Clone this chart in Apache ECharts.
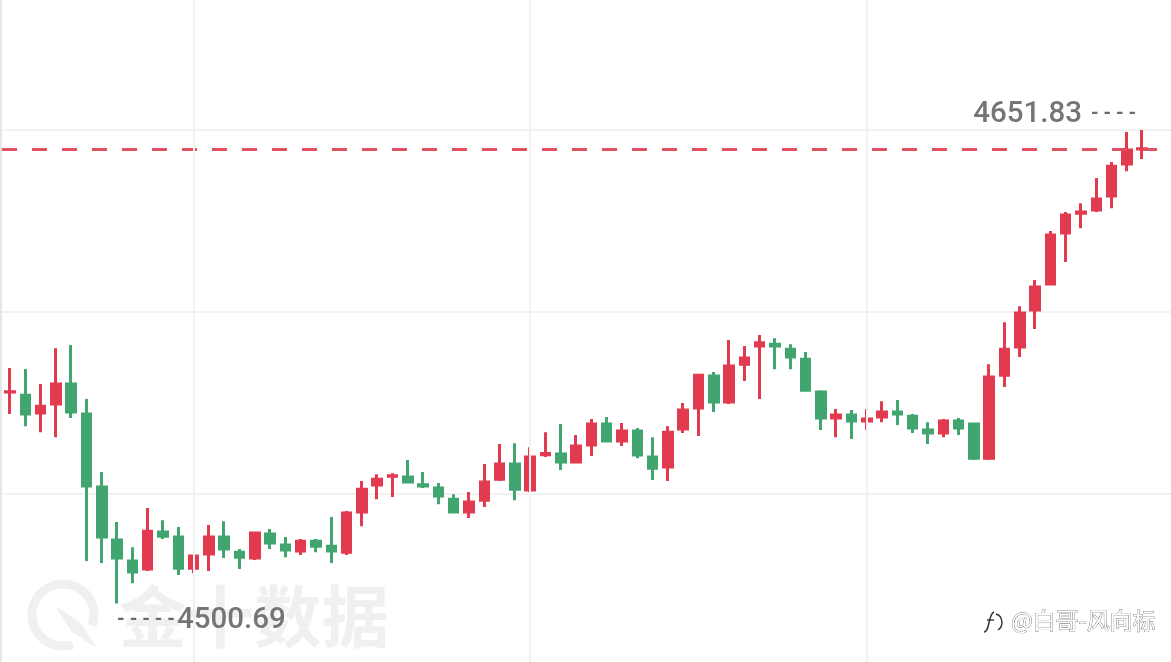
<!DOCTYPE html>
<html>
<head>
<meta charset="utf-8">
<style>html,body{margin:0;padding:0;background:#fff}#c{width:1171px;height:662px}</style>
<script src="https://cdn.jsdelivr.net/npm/echarts@6/dist/echarts.min.js"></script>
</head>
<body>
<div id="c"></div>
<script>
const opens = [4568.2,4567.2,4561.5,4564.4,4570.8,4561.2,4537.9,4521.0,4514.3,4511.7,4523.5,4521.9,4512.0,4516.5,4521.9,4517.1,4515.2,4522.9,4519.4,4517.5,4520.6,4519.0,4517.1,4529.9,4538.5,4541.3,4541.1,4538.6,4537.6,4534.0,4529.9,4533.7,4540.4,4545.2,4536.9,4548.2,4548.4,4545.9,4551.3,4558.0,4552.6,4555.8,4547.5,4544.3,4556.4,4563.1,4573.3,4565.0,4577.1,4582.9,4583.5,4581.9,4578.7,4568.2,4559.9,4560.9,4559.0,4560.2,4561.8,4560.5,4556.1,4555.1,4559.0,4558.0,4547.1,4573.6,4582.6,4594.4,4602.7,4619.0,4625.3,4626.3,4630.8,4641.0,4645.8];
const closes = [4568.3,4561.2,4563.7,4570.8,4561.8,4538.2,4521.9,4515.2,4510.8,4523.8,4522.2,4512.0,4515.9,4521.9,4518.1,4515.5,4523.2,4520.0,4517.8,4520.6,4519.0,4517.5,4529.6,4537.2,4540.4,4541.5,4539.5,4538.2,4535.0,4529.9,4533.1,4539.5,4545.2,4537.2,4547.5,4548.6,4545.9,4551.0,4558.0,4552.6,4555.8,4548.1,4543.9,4555.4,4562.5,4573.6,4565.0,4576.5,4579.1,4583.9,4582.9,4579.4,4568.8,4559.9,4560.9,4559.0,4559.6,4561.8,4561.2,4556.7,4555.1,4559.0,4556.7,4547.1,4573.0,4581.9,4593.4,4601.7,4618.3,4624.7,4625.7,4629.8,4640.3,4645.5,4645.9];
const lows = [4561.2,4557.3,4555.4,4553.8,4559.9,4514.3,4513.6,4500.69,4507.2,4511.1,4521.3,4509.8,4510.4,4511.1,4515.2,4511.7,4514.6,4518.1,4515.5,4516.2,4517.1,4513.6,4516.2,4525.4,4534.0,4534.7,4539.2,4537.6,4532.4,4529.6,4528.0,4531.5,4539.8,4533.7,4536.3,4547.5,4543.3,4545.5,4547.8,4552.2,4551.0,4547.1,4540.1,4539.8,4555.1,4554.2,4561.8,4564.4,4571.7,4566.0,4575.5,4575.5,4568.5,4556.1,4553.8,4553.2,4556.1,4558.6,4557.7,4555.1,4551.6,4553.8,4554.5,4546.5,4546.5,4569.8,4579.4,4588.3,4602.3,4609.7,4620.5,4625.7,4626.9,4638.7,4642.6];
const highs = [4575.9,4575.6,4570.8,4582.2,4583.2,4566.0,4542.7,4526.7,4518.7,4531.2,4527.3,4525.1,4516.2,4525.8,4527.0,4518.1,4523.5,4524.5,4521.9,4521.3,4521.3,4528.3,4530.2,4539.8,4542.0,4542.3,4546.5,4542.7,4539.2,4535.6,4536.3,4545.2,4551.6,4551.9,4550.6,4555.4,4558.0,4554.5,4559.6,4560.2,4558.3,4556.7,4553.8,4557.3,4564.7,4573.9,4574.6,4584.8,4582.9,4586.4,4585.4,4583.5,4581.0,4568.8,4562.8,4562.5,4562.8,4565.3,4565.7,4561.2,4558.6,4559.6,4559.9,4558.3,4577.1,4590.5,4595.6,4604.0,4619.6,4625.7,4628.5,4636.5,4641.6,4651.2,4651.83];
const highLabel = '4651.83';
const lowLabel = '4500.69';
const refPrice = 4645.8;
const gridStep = 58.149;

const categories = opens.concat([0, 0]).map((_, i) => String(i));
const candles = opens.map((o, i) => [o, closes[i], lows[i], highs[i]]);
const RED = '#e23b50', GREEN = '#41a570', GRID = '#f1f1f1', WM = '#f0f0f0';
const iconStroke = {stroke: '#333', lineWidth: 1.4, fill: 'none'};
const labelRich = {
  v: {fontFamily: 'Roboto', fontWeight: 500, fontSize: 29.5, color: '#757575'},
  d: {fontFamily: 'Roboto', fontWeight: 700, fontSize: 19.5, color: '#6a6a6a'},
  g: {width: 9},
  h: {width: 2}
};

const chart = echarts.init(document.getElementById('c'), null, {renderer: 'canvas'});
chart.setOption({
  animation: false,
  backgroundColor: '#fff',
  grid: {left: 2.35, width: 1178.1, top: -52.4, height: 728.7, containLabel: false, outerBoundsMode: 'none'},
  xAxis: {
    type: 'category', data: categories, boundaryGap: true,
    axisLine: {show: false}, axisTick: {show: false}, axisLabel: {show: false},
    splitLine: {show: false}
  },
  yAxis: {
    type: 'value', min: gridStep * 77, max: gridStep * 81, interval: gridStep, offset: 1.5,
    axisLine: {show: true, lineStyle: {color: '#e6e6e6', width: 2}},
    axisTick: {show: false}, axisLabel: {show: false},
    splitLine: {show: true, lineStyle: {color: GRID, width: 2}}
  },
  graphic: [
    {type: 'arc', z: 0, shape: {cx: 63, cy: 615, r: 31, startAngle: 1.25, endAngle: 0.35, clockwise: true},
     style: {stroke: WM, lineWidth: 9, fill: 'none'}},
    {type: 'polygon', z: 0, shape: {points: [[55,606],[80,622],[97,648],[72,632]]}, style: {fill: WM}},
    {type: 'text', z: 0, x: 119, y: 616, style: {text: '金十数据', fill: WM, font: 'bold 67.5px "Noto Sans CJK SC"', verticalAlign: 'middle'}},
    {type: 'bezierCurve', z: 5, shape: {x1: 994, y1: 612, cpx1: 988, cpy1: 614, cpx2: 990, cpy2: 632, x2: 984, y2: 632}, style: iconStroke},
    {type: 'line', z: 5, shape: {x1: 987, y1: 620, x2: 994, y2: 620}, style: iconStroke},
    {type: 'bezierCurve', z: 5, shape: {x1: 996, y1: 614, cpx1: 1003, cpy1: 616, cpx2: 1004, cpy2: 626, x2: 998, y2: 630}, style: iconStroke},
    {type: 'text', z: 5, x: 1011, y: 620, style: {text: '@白哥-风向标', fill: '#fff', stroke: '#555', lineWidth: 0.7, font: '23px "Noto Sans CJK SC"', verticalAlign: 'middle'}}
  ],
  series: [
    {
      type: 'candlestick', data: candles, barWidth: 9, clip: false, z: 3,
      itemStyle: {color: RED, color0: GREEN, borderColor: RED, borderColor0: GREEN, borderWidth: 3},
      markLine: {
        silent: true, symbol: 'none', animation: false,
        label: {show: false},
        lineStyle: {color: '#e2505f', type: [15, 15], width: 3},
        data: [[{x: 2, yAxis: refPrice}, {x: 1157, yAxis: refPrice}]]
      },
      markPoint: {
        silent: true, symbol: 'circle', symbolSize: 0, animation: false,
        itemStyle: {color: 'transparent'},
        data: [
          {coord: [categories[74], highs[74]], label: {
            show: true, position: 'left', distance: 0, offset: [-6, -15.5],
            formatter: '{v|' + highLabel + '}{g|}{d|- - - -}', rich: labelRich
          }},
          {coord: [categories[7], lows[7]], label: {
            show: true, position: 'right', distance: 0, offset: [0, 17],
            formatter: '{d|- - - - -}{h|}{v|' + lowLabel + '}', rich: labelRich
          }}
        ]
      }
    },
    {
      type: 'line', data: [], silent: true, symbol: 'none',
      markLine: {
        silent: true, symbol: 'none', animation: false, label: {show: false},
        lineStyle: {color: GRID, width: 2, type: 'solid'},
        data: [{xAxis: categories[12]}, {xAxis: categories[34]}, {xAxis: categories[56]}]
      },
      z: 1
    }
  ]
});
</script>
</body>
</html>
